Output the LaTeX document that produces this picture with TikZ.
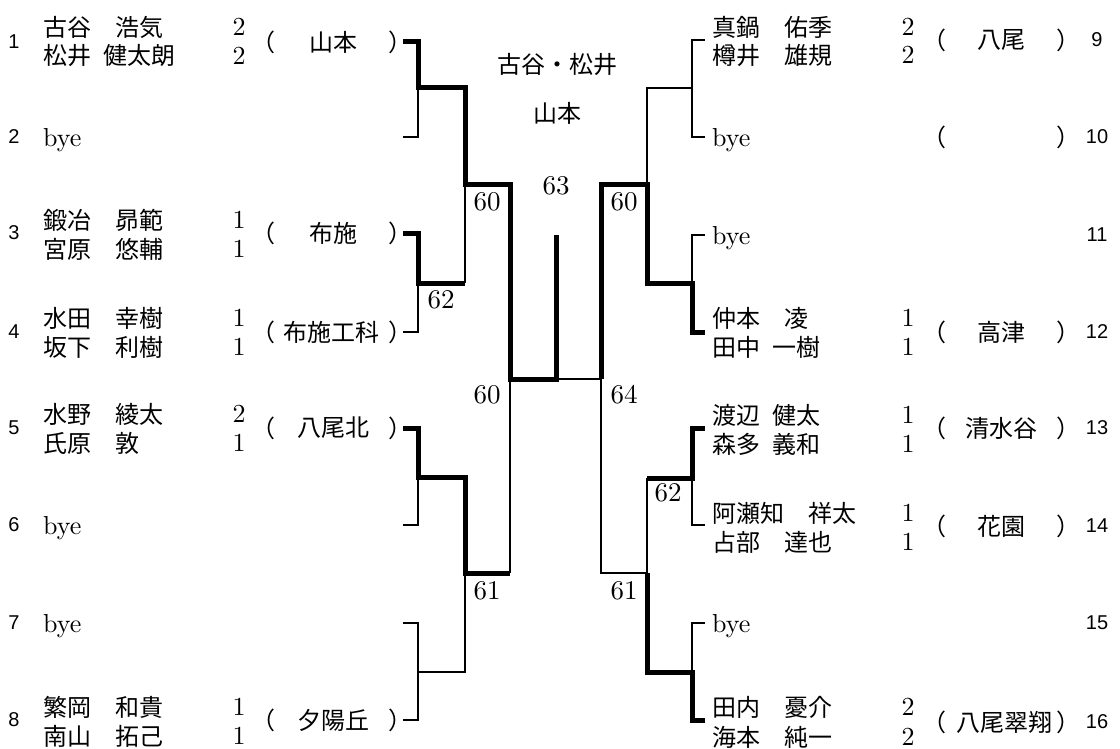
\documentclass[tikz,border=0pt]{standalone}
\usepackage{fontspec}
\newfontfamily\jpfont{Noto Sans CJK JP}
\newfontfamily\seedfont{Liberation Sans}
\newfontfamily\latinfont{lmroman10-regular.otf}

\tikzset{
    player/.style = {anchor = west, inner sep = 0pt, font = \jpfont\fontsize{24}{28}\selectfont},
    byetext/.style = {anchor = west, inner sep = 0pt, font = \latinfont\fontsize{26}{30}\selectfont},
    scoretext/.style = {inner sep = 0pt, font = \latinfont\fontsize{26}{30}\selectfont},
    schooltext/.style = {inner sep = 0pt, font = \jpfont\fontsize{24}{28}\selectfont},
    seedno/.style = {inner sep = 0pt, font = \seedfont\fontsize{20}{24}\selectfont},
    roundno/.style = {inner sep = 0pt, font = \latinfont\fontsize{27}{31}\selectfont},
    winline/.style = {line width = 5pt},
    loseline/.style = {line width = 1.6pt}
}

\begin{document}
\begin{tikzpicture}[x = 1pt, y = -1pt]
    \useasboundingbox (0, 0) rectangle (1120, 749);

    % === Bracket coordinates ===
    % Left stubs
    \coordinate (t1) at (403, 42);   \coordinate (t2) at (403, 137);
    \coordinate (t3) at (403, 233);  \coordinate (t4) at (403, 332);
    \coordinate (t5) at (403, 428);  \coordinate (t6) at (403, 525);
    \coordinate (t7) at (403, 623);  \coordinate (t8) at (403, 720);
    % Right stubs
    \coordinate (t9) at (705, 40);   \coordinate (t10) at (705, 137);
    \coordinate (t11) at (705, 235); \coordinate (t12) at (705, 332);
    \coordinate (t13) at (705, 428); \coordinate (t14) at (705, 525);
    \coordinate (t15) at (705, 623); \coordinate (t16) at (705, 720);
    % Joints
    \coordinate (ja1) at (418, 88);  \coordinate (ja2) at (418, 283);
    \coordinate (ja3) at (418, 477); \coordinate (ja4) at (418, 672);
    \coordinate (jb1) at (465, 185); \coordinate (jb2) at (465, 573);
    \coordinate (jc1) at (510, 379);
    \coordinate (jf) at (556, 379);  \coordinate (jtop) at (556, 235);
    \coordinate (jg) at (601, 379);
    \coordinate (je1) at (647, 185); \coordinate (je2) at (647, 573);
    \coordinate (jd1) at (692, 88);  \coordinate (jd2) at (692, 283);
    \coordinate (jd3) at (692, 478); \coordinate (jd4) at (692, 672);

    % === Left half ===
    \draw[loseline] (ja1) |- (t2);
    \draw[loseline] (ja2) |- (t4);
    \draw[loseline] (jb1) -- (ja2 -| jb1);
    \draw[loseline] (ja3) |- (t6);
    \draw[loseline] (t7) -| (ja4) |- (t8);
    \draw[loseline] (ja4) -| (jb2);
    \draw[loseline] (jc1) -- (jb2 -| jc1);
    \draw[winline] (t1) -| (ja1) -| (jb1) -| (jc1) -- (jf) -- (jtop);
    \draw[winline] (t3) -| (ja2) -- (ja2 -| jb1);
    \draw[winline] (t5) -| (ja3) -| (jb2) -- (jb2 -| jc1);

    % === Right half ===
    \draw[loseline] (jf) -- (jg);
    \draw[loseline] (je1) |- (jd1);
    \draw[loseline] (t9) -| (jd1) |- (t10);
    \draw[loseline] (t11) -| (jd2);
    \draw[loseline] (jg) |- (je2) -- (jd3 -| je2);
    \draw[loseline] (jd3) |- (t14);
    \draw[loseline] (t15) -| (jd4);
    \draw[winline] (jg) |- (je1) |- (jd2) |- (t12);
    \draw[winline] (t13) -| (jd3) -- (jd3 -| je2);
    \draw[winline] (t16) -| (jd4) -| (je2);

    % === Round numbers ===
    \node[roundno] (rn1) at (441, 300) {62};
    \node[roundno] (rn2) at (487, 202) {60};
    \node[roundno] (rn3) at (487, 395) {60};
    \node[roundno] (rn4) at (487, 591) {61};
    \node[roundno] (rn5) at (556, 186) {63};
    \node[roundno] (rn6) at (624, 202) {60};
    \node[roundno] (rn7) at (624, 395) {64};
    \node[roundno] (rn8) at (668, 493) {62};
    \node[roundno] (rn9) at (624, 591) {61};

    % === Champion ===
    \node[schooltext] (champ) at (557, 65) {古谷・松井};
    \node[schooltext] (champsch) at (557, 113) {山本};

    % === Left entries ===
    % 1
    \node[seedno] (n1) at (14, 42) {1};
    \node[player] (pa1) at (43, 27) {古谷　浩気};
    \node[player] (pb1) at (43, 56) {松井\hspace{0.5em}健太朗};
    \node[scoretext] (sa1) at (239, 27) {2};
    \node[scoretext] (sb1) at (239, 56) {2};
    \node[schooltext] (lp1) at (263, 42) {（};
    \node[schooltext] (sch1) at (333, 42) {山本};
    \node[schooltext] (rp1) at (400, 42) {）};
    % 2
    \node[seedno] (n2) at (14, 137) {2};
    \node[byetext] (pa2) at (43, 140) {bye};
    % 3
    \node[seedno] (n3) at (14, 233) {3};
    \node[player] (pa3) at (43, 220) {鍛冶　昴範};
    \node[player] (pb3) at (43, 249) {宮原　悠輔};
    \node[scoretext] (sa3) at (239, 220) {1};
    \node[scoretext] (sb3) at (239, 249) {1};
    \node[schooltext] (lp3) at (263, 233) {（};
    \node[schooltext] (sch3) at (333, 233) {布施};
    \node[schooltext] (rp3) at (400, 233) {）};
    % 4
    \node[seedno] (n4) at (14, 332) {4};
    \node[player] (pa4) at (43, 318) {水田　幸樹};
    \node[player] (pb4) at (43, 347) {坂下　利樹};
    \node[scoretext] (sa4) at (239, 318) {1};
    \node[scoretext] (sb4) at (239, 347) {1};
    \node[schooltext] (lp4) at (263, 332) {（};
    \node[schooltext] (sch4) at (331, 332) {布施工科};
    \node[schooltext] (rp4) at (400, 332) {）};
    % 5
    \node[seedno] (n5) at (14, 428) {5};
    \node[player] (pa5) at (43, 414) {水野　綾太};
    \node[player] (pb5) at (43, 443) {氏原　敦};
    \node[scoretext] (sa5) at (239, 414) {2};
    \node[scoretext] (sb5) at (239, 443) {1};
    \node[schooltext] (lp5) at (263, 428) {（};
    \node[schooltext] (sch5) at (333, 428) {八尾北};
    \node[schooltext] (rp5) at (400, 428) {）};
    % 6
    \node[seedno] (n6) at (14, 525) {6};
    \node[byetext] (pa6) at (43, 528) {bye};
    % 7
    \node[seedno] (n7) at (14, 623) {7};
    \node[byetext] (pa7) at (43, 626) {bye};
    % 8
    \node[seedno] (n8) at (14, 720) {8};
    \node[player] (pa8) at (43, 707) {繁岡　和貴};
    \node[player] (pb8) at (43, 736) {南山　拓己};
    \node[scoretext] (sa8) at (239, 707) {1};
    \node[scoretext] (sb8) at (239, 736) {1};
    \node[schooltext] (lp8) at (263, 720) {（};
    \node[schooltext] (sch8) at (333, 720) {夕陽丘};
    \node[schooltext] (rp8) at (400, 720) {）};

    % === Right entries ===
    % 9
    \node[seedno] (n9) at (1097, 40) {9};
    \node[player] (pa9) at (712, 27) {真鍋　佑季};
    \node[player] (pb9) at (712, 55) {樽井　雄規};
    \node[scoretext] (sa9) at (908, 27) {2};
    \node[scoretext] (sb9) at (908, 55) {2};
    \node[schooltext] (lp9) at (934, 40) {（};
    \node[schooltext] (sch9) at (1001, 40) {八尾};
    \node[schooltext] (rp9) at (1068, 40) {）};
    % 10
    \node[seedno] (n10) at (1097, 137) {10};
    \node[byetext] (pa10) at (712, 140) {bye};
    \node[schooltext] (lp10) at (934, 137) {（};
    \node[schooltext] (rp10) at (1068, 137) {）};
    % 11
    \node[seedno] (n11) at (1097, 235) {11};
    \node[byetext] (pa11) at (712, 238) {bye};
    % 12
    \node[seedno] (n12) at (1097, 332) {12};
    \node[player] (pa12) at (712, 318) {仲本　凌};
    \node[player] (pb12) at (712, 347) {田中\hspace{0.5em}一樹};
    \node[scoretext] (sa12) at (908, 318) {1};
    \node[scoretext] (sb12) at (908, 347) {1};
    \node[schooltext] (lp12) at (934, 332) {（};
    \node[schooltext] (sch12) at (1001, 332) {高津};
    \node[schooltext] (rp12) at (1068, 332) {）};
    % 13
    \node[seedno] (n13) at (1097, 428) {13};
    \node[player] (pa13) at (712, 415) {渡辺\hspace{0.5em}健太};
    \node[player] (pb13) at (712, 444) {森多\hspace{0.5em}義和};
    \node[scoretext] (sa13) at (908, 415) {1};
    \node[scoretext] (sb13) at (908, 444) {1};
    \node[schooltext] (lp13) at (934, 428) {（};
    \node[schooltext] (sch13) at (1001, 428) {清水谷};
    \node[schooltext] (rp13) at (1068, 428) {）};
    % 14
    \node[seedno] (n14) at (1097, 526) {14};
    \node[player] (pa14) at (712, 513) {阿瀬知　祥太};
    \node[player] (pb14) at (712, 542) {占部　達也};
    \node[scoretext] (sa14) at (908, 513) {1};
    \node[scoretext] (sb14) at (908, 542) {1};
    \node[schooltext] (lp14) at (934, 526) {（};
    \node[schooltext] (sch14) at (1001, 526) {花園};
    \node[schooltext] (rp14) at (1068, 526) {）};
    % 15
    \node[seedno] (n15) at (1097, 623) {15};
    \node[byetext] (pa15) at (712, 626) {bye};
    % 16
    \node[seedno] (n16) at (1097, 722) {16};
    \node[player] (pa16) at (712, 707) {田内　憂介};
    \node[player] (pb16) at (712, 737) {海本　純一};
    \node[scoretext] (sa16) at (908, 707) {2};
    \node[scoretext] (sb16) at (908, 737) {2};
    \node[schooltext] (lp16) at (934, 722) {（};
    \node[schooltext] (sch16) at (1004, 722) {八尾翠翔};
    \node[schooltext] (rp16) at (1068, 722) {）};
\end{tikzpicture}
\end{document}
